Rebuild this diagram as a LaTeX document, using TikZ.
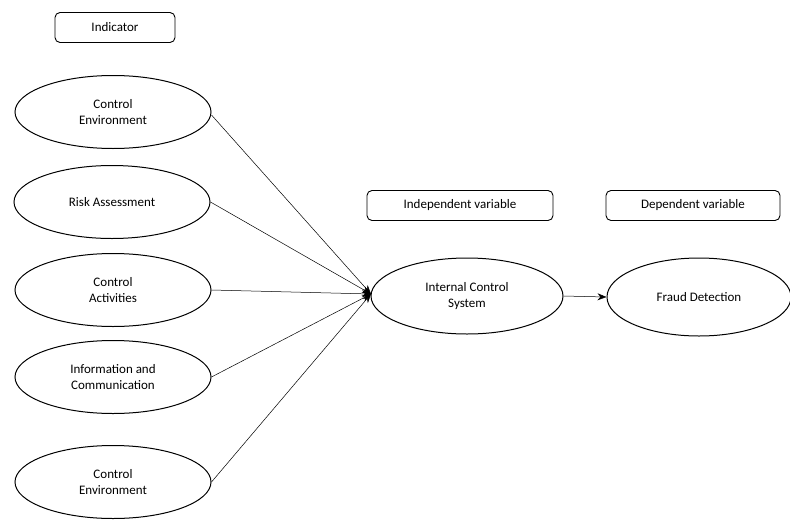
\documentclass[tikz,border=0pt]{standalone}
\usepackage{fontspec}
\setmainfont{Carlito}
\usetikzlibrary{shapes.geometric,arrows.meta}
\begin{document}
\begin{tikzpicture}[x=1pt,y=-1pt,
  oval/.style={ellipse,draw,line width=1pt,inner sep=0pt,minimum width=196pt,minimum height=73pt,align=center,font=\fontsize{13}{16}\selectfont},
  lbl/.style={draw,rounded corners=5pt,line width=0.9pt,inner sep=0pt,minimum height=30pt,font=\fontsize{13}{16}\selectfont},
  conn/.style={line width=0.5pt,-{Stealth[length=9pt,width=7pt]}}]
\useasboundingbox (0,0) rectangle (790,520);
\node[lbl,minimum width=120pt] (ind) at (115,27.5) {Indicator};
\node[oval] (e1) at (113,112) {Control\\Environment};
\node[oval] (e2) at (112,202) {Risk Assessment};
\node[oval] (e3) at (113,290) {Control\\Activities};
\node[oval] (e4) at (113,377) {Information and\\Communication};
\node[oval] (e5) at (113,482) {Control\\Environment};
\node[oval,minimum width=192pt,minimum height=76pt] (ics) at (467,296) {Internal Control\\System};
\node[oval,minimum width=184pt,minimum height=78pt] (fd) at (699,297) {Fraud Detection};
\node[lbl,minimum width=186pt] (iv) at (460,205.5) {Independent variable};
\node[lbl,minimum width=174pt] (dv) at (693,205.5) {Dependent variable};
\coordinate (tip) at (371,294);
\draw[conn] (e1.east) ++(0,3) -- (tip);
\draw[conn] (e2.east) -- (tip);
\draw[conn] (e3.east) -- (tip);
\draw[conn] (e4.east) -- (tip);
\draw[conn] (e5.east) -- (tip);
\draw[conn] (ics.east) -- (fd.west);
\end{tikzpicture}
\end{document}
